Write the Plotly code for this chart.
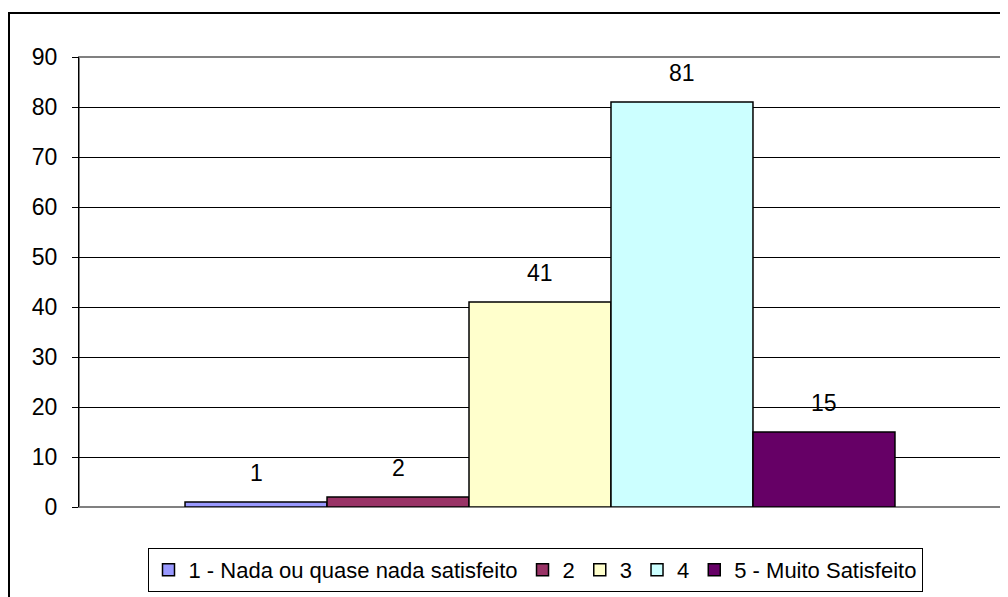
import plotly.graph_objects as go

series_names = ["1 - Nada ou quase nada satisfeito", "2", "3", "4", "5 - Muito Satisfeito"]
values = [1, 2, 41, 81, 15]
colors = ["#9999FF", "#993366", "#FFFFCC", "#CCFFFF", "#660066"]
y_ticks = list(range(0, 100, 10))

FONT = "Arial, Liberation Sans, sans-serif"
FS = 23
bargap = 0.23
n = len(values)
bw = (1 - bargap) / n

fig = go.Figure()
for name, v, c in zip(series_names, values, colors):
    fig.add_trace(go.Bar(
        x=[0], y=[v], name=name,
        marker=dict(color=c, line=dict(color="black", width=1.5)),
        hoverinfo="skip",
    ))

for i, v in enumerate(values):
    xc = -(1 - bargap) / 2 + bw * (i + 0.5)
    fig.add_annotation(x=xc, y=v, xref="x", yref="y", text=str(v), showarrow=False,
                       yanchor="middle", yshift=29, font=dict(family=FONT, size=FS, color="black"))

# page has an 8px body margin; figure origin is at page (8, 8)
OFF = 8
W, H = 1000, 589
L, T = 79 - OFF, 57 - OFF
R = W - (1001 - OFF)
B = H - (507 - OFF)
pw, ph = W - L - R, H - T - B

def px_x(px):
    return (px - OFF - L) / pw

def px_y(py):
    return (H - B - (py - OFF)) / ph

fig.update_layout(
    width=W, height=H,
    margin=dict(l=L, r=R, t=T, b=B, pad=0, autoexpand=False),
    paper_bgcolor="white", plot_bgcolor="white",
    barmode="group", bargap=bargap, bargroupgap=0,
    font=dict(family=FONT, size=FS, color="black"),
    showlegend=True,
    legend=dict(orientation="h", x=px_x(535), xanchor="center", y=px_y(548), yanchor="top",
                bordercolor="black", borderwidth=1, font=dict(family=FONT, size=22),
                bgcolor="white", traceorder="normal"),
    xaxis=dict(range=[-0.5, 0.5], showticklabels=False, showgrid=False, zeroline=False,
               showline=False, ticks=""),
    yaxis=dict(range=[0, 90], tickvals=y_ticks, showgrid=True, gridcolor="black", gridwidth=1,
               zeroline=False, showline=True, linecolor="black", linewidth=1,
               ticks="outside", ticklen=6, tickcolor="black", ticklabelstandoff=10,
               tickfont=dict(family=FONT, size=FS, color="black")),
    shapes=[
        dict(type="rect", xref="paper", yref="paper", x0=0, x1=1, y0=0, y1=1,
             line=dict(color="#808080", width=2), layer="below"),
        dict(type="rect", xref="paper", yref="paper", x0=px_x(9), x1=px_x(1012),
             y0=px_y(620), y1=px_y(13), line=dict(color="black", width=2), layer="below"),
    ],
)

fig.write_html("out.html")
